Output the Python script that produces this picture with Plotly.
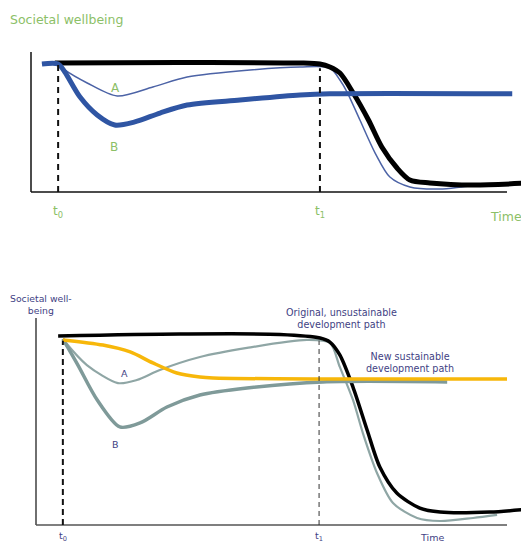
import plotly.graph_objects as go

# ---------------- Top panel data (time units, wellbeing units) ----------------
top_black_t = [5.0, 31.0, 56.5, 60.7, 62.8, 64.9, 67.7, 70.9, 73.7, 76.9, 79.6, 83.8, 92.9, 104.6]
top_black_y = [100.0, 100.3, 100.0, 99.2, 96.9, 92.2, 76.7, 55.8, 34.9, 18.6, 9.3, 7.0, 5.4, 7.0]

top_a_t = [2.3, 5.7, 7.1, 11.8, 18.1, 25.6, 32.8, 46.0, 56.5, 62.8, 64.9, 66.4, 69.1, 72.3, 75.4, 79.6, 85.9, 92.2, 104.6]
top_a_y = [99.5, 99.2, 94.6, 84.5, 74.4, 81.4, 89.1, 94.6, 96.9, 96.1, 86.8, 77.5, 55.8, 30.2, 11.6, 3.9, 2.3, 4.7, 7.0]

top_b_t = [2.3, 5.7, 7.1, 10.3, 13.9, 17.6, 21.8, 27.1, 32.8, 43.9, 56.5, 62.8, 101.1]
top_b_y = [99.2, 99.2, 93.0, 73.6, 59.7, 51.9, 54.3, 61.2, 67.4, 71.3, 75.2, 76.2, 76.2]

# ---------------- Bottom panel data ----------------
bot_black_t = [4.7, 30.6, 51.8, 60.3, 62.4, 64.5, 67.3, 70.3, 73.0, 76.6, 81.5, 85.8, 96.4, 104.7]
bot_black_y = [99.5, 100.5, 100.3, 98.4, 96.3, 89.5, 72.6, 50.0, 30.5, 16.8, 8.9, 6.8, 6.8, 8.4]

bot_a_t = [5.7, 6.2, 10.8, 17.4, 21.4, 26.3, 34.8, 44.8, 57.5, 62.4, 64.5, 67.3, 69.4, 72.4, 75.8, 80.9, 85.8, 92.8, 97.9]
bot_a_y = [98.0, 96.3, 84.2, 74.7, 76.3, 81.6, 88.4, 93.2, 97.4, 95.8, 83.2, 65.8, 48.4, 27.4, 11.6, 3.7, 2.1, 3.7, 5.3]

bot_b_t = [5.7, 8.9, 13.0, 17.8, 22.1, 27.8, 34.8, 44.8, 60.9, 87.3]
bot_b_y = [98.0, 84.2, 65.8, 51.6, 53.7, 62.1, 68.4, 72.1, 75.3, 75.3]

orange_t = [5.7, 14.2, 20.0, 24.8, 29.9, 34.8, 37.6, 60.9, 100.0]
orange_y = [97.4, 94.7, 91.1, 85.3, 80.0, 77.9, 77.4, 76.8, 76.8]

# time markers
top_t0, top_t1 = 5.7, 60.7
bot_t0, bot_t1 = 5.7, 60.1
tick_labels = ["t<sub>0</sub>", "t<sub>1</sub>"]

GREEN = "#8cc067"
NAVY = "#3f3f84"
FONT = "DejaVu Sans"

W, H = 529, 544
OFF = 8  # default page body margin

# axis-scale helpers (window pixel -> data value)
def top_x(p): return (p - 31) / 4.76
def top_y(p): return (192 - p) / 1.29
def bot_x(p): return (p - 36) / 4.71
def bot_y(p): return (525 - p) / 1.9
SPLIT = 272  # figure pixel where the two panels meet

def px(p): return (p - OFF) / W
def py(p): return 1 - (p - OFF) / H

fig = go.Figure()

def line(t, y, color, width, xa, ya):
    fig.add_trace(go.Scatter(x=t, y=y, mode="lines",
                             line=dict(color=color, width=width, shape="spline", smoothing=0.8),
                             xaxis=xa, yaxis=ya, hoverinfo="skip", showlegend=False))

# top
line(top_a_t, top_a_y, "#4c63a6", 1.5, "x", "y")
line(top_black_t, top_black_y, "#000000", 5, "x", "y")
line(top_b_t, top_b_y, "#2f55a3", 5, "x", "y")
# bottom
line(bot_a_t, bot_a_y, "#8fa6a5", 2.2, "x2", "y2")
line(bot_black_t, bot_black_y, "#000000", 3.5, "x2", "y2")
line(bot_b_t, bot_b_y, "#7f9a99", 3.5, "x2", "y2")
line(orange_t, orange_y, "#f7b70a", 3.5, "x2", "y2")

shapes = []
# top axes
shapes.append(dict(type="line", xref="x", yref="y", x0=0, x1=0, y0=0, y1=top_y(52), line=dict(color="#111", width=1.5)))
shapes.append(dict(type="line", xref="x", yref="y", x0=0, x1=100, y0=0, y1=0, line=dict(color="#111", width=1.5)))
shapes.append(dict(type="line", xref="x", yref="y", x0=top_t0, x1=top_t0, y0=0, y1=99, line=dict(color="#111", width=2, dash="6px,5px")))
shapes.append(dict(type="line", xref="x", yref="y", x0=top_t1, x1=top_t1, y0=0, y1=96, line=dict(color="#111", width=2, dash="6px,5px")))
# bottom axes
shapes.append(dict(type="line", xref="x2", yref="y2", x0=0, x1=0, y0=0, y1=bot_y(318), line=dict(color="#222", width=1.3)))
shapes.append(dict(type="line", xref="x2", yref="y2", x0=0, x1=100, y0=0, y1=0, line=dict(color="#555", width=1.5)))
shapes.append(dict(type="line", xref="x2", yref="y2", x0=bot_t0, x1=bot_t0, y0=0, y1=97, line=dict(color="#111", width=2, dash="6px,4px")))
shapes.append(dict(type="line", xref="x2", yref="y2", x0=bot_t1, x1=bot_t1, y0=0, y1=97, line=dict(color="#333", width=1, dash="5px,4px")))

ann = []
def text(x, y, s, color, size, xa, ya):
    ann.append(dict(x=x, y=y, xref=xa, yref=ya, text=s, showarrow=False, xanchor="center", yanchor="middle",
                    align="center", font=dict(family=FONT, size=size, color=color)))

def ptext(x, y, s, color, size, xanchor="center"):
    ann.append(dict(x=px(x), y=py(y), xref="paper", yref="paper", text=s, showarrow=False,
                    xanchor=xanchor, yanchor="middle", align="center",
                    font=dict(family=FONT, size=size, color=color)))

# top texts
ptext(8, 19, "Societal wellbeing", GREEN, 12.5, "left")
text(top_x(115), top_y(88), "A", GREEN, 12, "x", "y")
text(top_x(114), top_y(147), "B", GREEN, 12, "x", "y")
text(top_t0, top_y(212), tick_labels[0], GREEN, 12, "x", "y")
text(top_t1, top_y(212), tick_labels[1], GREEN, 12, "x", "y")
ptext(524, 216, "Time", GREEN, 12.5, "right")

# bottom texts
ptext(41, 304, "Societal well-<br>being", NAVY, 9.3)
ptext(341, 318, "Original, unsustainable<br>development path", NAVY, 9.6)
ptext(410, 362, "New sustainable<br>development path", NAVY, 9.6)
text(bot_x(124), bot_y(373), "A", NAVY, 9.5, "x2", "y2")
text(bot_x(115), bot_y(444), "B", NAVY, 9.5, "x2", "y2")
text(bot_t0, bot_y(536), tick_labels[0], NAVY, 9.5, "x2", "y2")
text(bot_t1, bot_y(536), tick_labels[1], NAVY, 9.5, "x2", "y2")
ptext(432, 537, "Time", NAVY, 9.5)

ax_common = dict(visible=False, fixedrange=True)
fig.update_layout(
    width=W, height=H,
    margin=dict(l=0, r=0, t=0, b=0),
    paper_bgcolor="white", plot_bgcolor="rgba(0,0,0,0)",
    xaxis=dict(domain=[0, 1], range=[top_x(OFF), top_x(W + OFF)], anchor="y", **ax_common),
    yaxis=dict(domain=[1 - SPLIT / H, 1], range=[top_y(SPLIT + OFF), top_y(OFF)], anchor="x", **ax_common),
    xaxis2=dict(domain=[0, 1], range=[bot_x(OFF), bot_x(W + OFF)], anchor="y2", **ax_common),
    yaxis2=dict(domain=[0, 1 - SPLIT / H], range=[bot_y(H + OFF), bot_y(SPLIT + OFF)], anchor="x2", **ax_common),
    shapes=shapes, annotations=ann,
)

fig.write_html("out.html")
